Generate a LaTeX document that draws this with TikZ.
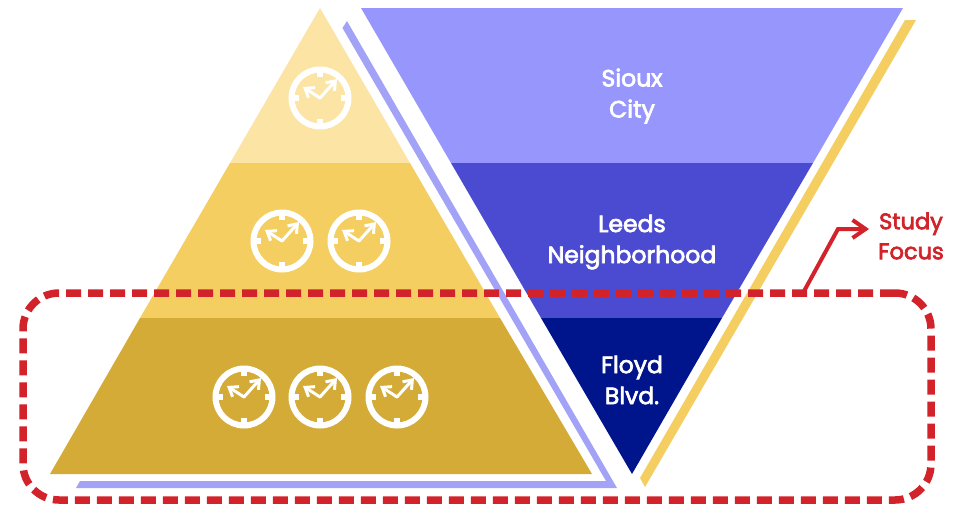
\documentclass[tikz,border=0pt]{standalone}
\usepackage{fontspec}
\setmainfont{Poppins}
\newfontfamily\labelfont[FakeBold=3]{Poppins}
\usetikzlibrary{arrows.meta}
\definecolor{palegold}{HTML}{FBE4A4}
\definecolor{midgold}{HTML}{F4CE61}
\definecolor{darkgold}{HTML}{D4AB36}
\definecolor{violetA}{HTML}{9696FC}
\definecolor{violetB}{HTML}{4B4BD2}
\definecolor{violetC}{HTML}{00148C}
\definecolor{lilac}{HTML}{A2A2F6}
\definecolor{focusred}{HTML}{D2232A}
\tikzset{
  x=1pt,y=-1pt,
  lbl/.style={text=white,font=\labelfont\fontsize{23.5}{31}\selectfont,align=center,inner sep=0pt},
  redlbl/.style={text=focusred,font=\labelfont\fontsize{22.5}{30}\selectfont,align=center,inner sep=0pt},
  focusbox/.style={draw=focusred,line width=7.5pt,rounded corners=36pt,dash pattern=on 15pt off 7pt,minimum width=908pt,minimum height=207pt,inner sep=0pt},
  hand/.style={draw=white,line width=3pt,line cap=round,-{Straight Barb[length=8pt,width=12pt,line width=3pt]}},
  clockbody/.pic={
    \draw[white,line width=6pt] (0,0) circle[radius=28.5];
    \foreach \a in {0,90,180,270}{\draw[white,line width=6pt,rotate=\a] (27,0) -- (21,0);}
    \draw[hand] (0,0) -- (17,-19);
    \draw[hand] (0,0) -- (-17,-11);
  }
}
\begin{document}
\begin{tikzpicture}
\useasboundingbox (0,0) rectangle (961,507);
\fill[white] (0,0) rectangle (961,507);
% left pyramid
\fill[palegold] (320,8) -- (410,163) -- (230,163) -- cycle;
\fill[midgold] (230,163) -- (410,163) -- (500,318) -- (140,318) -- cycle;
\fill[darkgold] (140,318) -- (500,318) -- (592,474) -- (50,474) -- cycle;
% lilac strip
\fill[lilac] (347,21) -- (617,488) -- (76,488) -- (80,481) -- (606,481) -- (342.5,28) -- cycle;
% inverted pyramid
\fill[violetA] (361,8) -- (903,8) -- (813,163) -- (451,163) -- cycle;
\fill[violetB] (451,163) -- (813,163) -- (722,318) -- (541,318) -- cycle;
\fill[violetC] (541,318) -- (722,318) -- (632,474) -- cycle;
% yellow strip
\fill[midgold] (905,20) -- (916,20) -- (645,487) -- (640,478) -- cycle;
% clocks
\foreach \cx/\cy in {320/98,282/241,359/241,244/397,320/397,397/397}
  \pic at (\cx,\cy) {clockbody};
% labels
\node[lbl] (sioux) at (632,96) {Sioux\\City};
\node[lbl] (leeds) at (632,242) {Leeds\\Neighborhood};
\node[lbl] (floyd) at (632,380) {Floyd\\Blvd.};
\node[redlbl] (study) at (911,236) {Study\\Focus};
% study focus frame
\node[focusbox] (focus) at (477,396.5) {};
\coordinate (focustop) at (803,293);
\coordinate (bend) at (838,229);
\draw[focusred,line width=4pt,shorten >=9pt,-{Straight Barb[length=13pt,width=18pt,line width=4pt]}] (focustop) -- (bend) -- (study.west |- bend);
\end{tikzpicture}
\end{document}
